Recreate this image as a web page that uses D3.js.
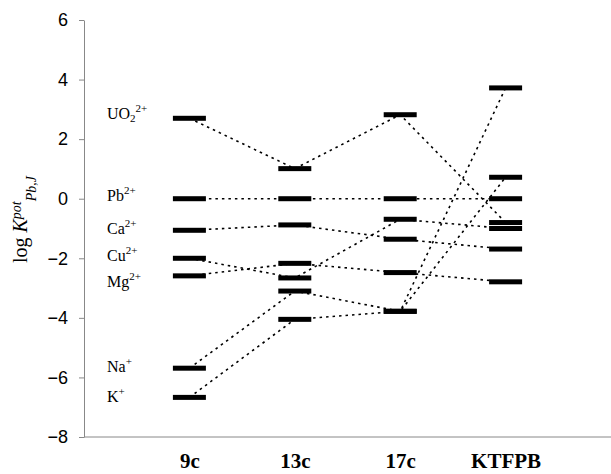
<!DOCTYPE html>
<html>
<head>
<meta charset="utf-8">
<script src="https://cdn.jsdelivr.net/npm/d3@7"></script>
<style>
  body { margin: 0; background: #fff; }
</style>
</head>
<body>
<div id="chart"></div>
<script>
// categories (x axis)
const categories = ["9c", "13c", "17c", "KTFPB"];

// log K values per ion, one entry per category
const uo2 = [2.70, 1.01, 2.82, -0.80];
const pb = [0, 0, 0, 0];
const ca = [-1.06, -0.88, -1.36, -1.69];
const cu = [-2.00, -2.66, -0.69, -1.00];
const mg = [-2.59, -2.17, -2.48, -2.79];
const na = [-5.69, -3.10, -3.78, 0.72];
const k = [-6.67, -4.05, -3.78, 3.72];

// ion labels on the left and where they sit (log K units)
const ionLabels = [
    [{ t: "UO" }, { t: "2", s: "sub" }, { t: "2+", s: "sup" }],
    [{ t: "Pb" }, { t: "2+", s: "sup" }],
    [{ t: "Ca" }, { t: "2+", s: "sup" }],
    [{ t: "Cu" }, { t: "2+", s: "sup" }],
    [{ t: "Mg" }, { t: "2+", s: "sup" }],
    [{ t: "Na" }, { t: "+", s: "sup" }],
    [{ t: "K" }, { t: "+", s: "sup" }]
];
const labelPos = [2.83, 0.1, -1.0, -1.92, -2.8, -5.64, -6.65];

const yTicks = [-8, -6, -4, -2, 0, 2, 4, 6];

const series = [uo2, pb, ca, cu, mg, na, k];

const width = 611, height = 474;
const margin = { top: 20, right: 0, bottom: 37, left: 84 };

const svg = d3.select("#chart")
    .append("svg")
    .attr("width", width)
    .attr("height", height);

const x = d3.scalePoint()
    .domain(categories)
    .range([margin.left, width - margin.right])
    .padding(1);

const y = d3.scaleLinear()
    .domain([-8, 6])
    .range([height - margin.bottom, margin.top]);

// y axis
const yAxis = svg.append("g")
    .attr("transform", "translate(" + margin.left + ",0)")
    .call(d3.axisLeft(y).tickValues(yTicks).tickSize(5).tickSizeOuter(0).tickPadding(11).tickFormat(d3.format("d")));
yAxis.select(".domain").attr("stroke", "#888");
yAxis.selectAll(".tick line").attr("stroke", "#888");
yAxis.selectAll("text")
    .attr("fill", "#000")
    .style("font-family", "Arial, 'Liberation Sans', sans-serif")
    .style("font-size", "18px");

// x axis
const xAxis = svg.append("g")
    .attr("transform", "translate(0," + y(-8) + ")")
    .call(d3.axisBottom(x).tickSize(0).tickSizeOuter(0).tickPadding(16));
xAxis.select(".domain").attr("stroke", "#888").attr("d", "M" + margin.left + ",0H" + width);
xAxis.selectAll("text")
    .attr("fill", "#000")
    .style("font-family", "'Times New Roman', 'Liberation Serif', serif")
    .style("font-weight", "bold")
    .style("font-size", "21px");

// dotted connectors, drawn under the bars
const line = d3.line()
    .x((d, i) => x(categories[i]))
    .y(d => y(d));

svg.append("g")
    .selectAll("path")
    .data(series)
    .enter()
    .append("path")
    .attr("d", line)
    .attr("fill", "none")
    .attr("stroke", "#000")
    .attr("stroke-width", 1.6)
    .attr("stroke-dasharray", "2.5,4");

// level bars
const barW = 33, barH = 5;
svg.append("g")
    .selectAll("g")
    .data(series)
    .enter()
    .append("g")
    .selectAll("rect")
    .data(d => d)
    .enter()
    .append("rect")
    .attr("x", (d, i) => x(categories[i]) - barW / 2)
    .attr("y", d => y(d) - barH / 2)
    .attr("width", barW)
    .attr("height", barH)
    .attr("fill", "#000");

// ion labels
const labels = svg.append("g")
    .style("font-family", "'Times New Roman', 'Liberation Serif', serif")
    .style("font-size", "16px");

labels.selectAll("text")
    .data(ionLabels)
    .enter()
    .append("text")
    .attr("x", margin.left + 23)
    .attr("y", (d, i) => y(labelPos[i]) + 5)
    .each(function (parts) {
        const txt = d3.select(this);
        let shift = 0;
        parts.forEach(p => {
            const target = p.s === "sup" ? -7 : p.s === "sub" ? 3 : 0;
            txt.append("tspan")
                .attr("dy", target - shift)
                .style("font-size", p.s ? "11px" : null)
                .text(p.t);
            shift = target;
        });
    });

// y axis title
const title = svg.append("text")
    .attr("transform", "translate(27," + (y(-0.7)) + ") rotate(-90)")
    .attr("text-anchor", "middle")
    .style("font-family", "'Times New Roman', 'Liberation Serif', serif")
    .style("font-size", "20px");
title.append("tspan").text("log ");
title.append("tspan").style("font-style", "italic").text("K");
title.append("tspan").attr("dy", -6).style("font-style", "italic").style("font-size", "14px").text("pot");
title.append("tspan").attr("dy", 15).style("font-style", "italic").style("font-size", "14px").text("Pb,J");
</script>
</body>
</html>
